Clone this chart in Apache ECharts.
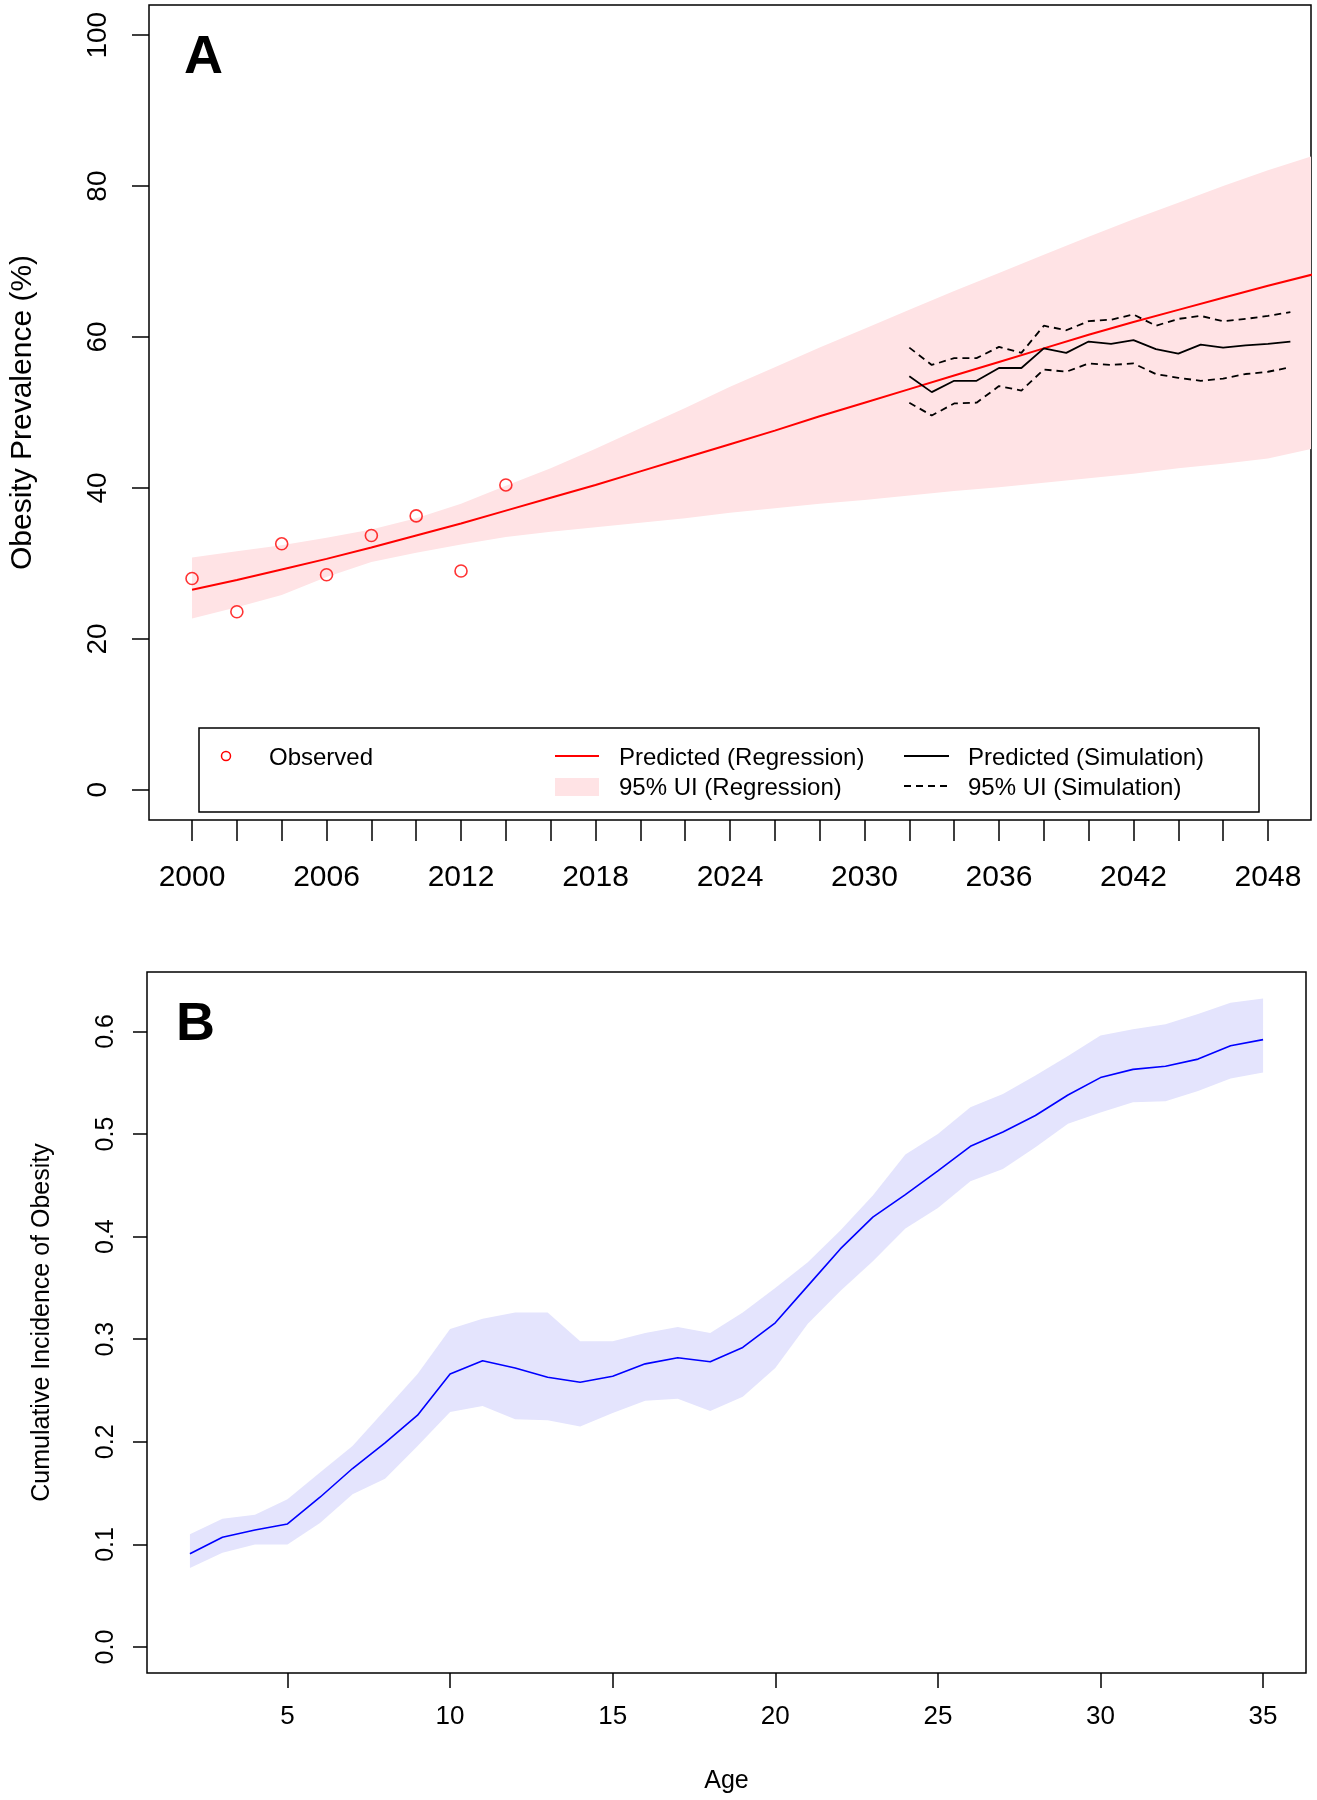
<!DOCTYPE html>
<html>
<head>
<meta charset="utf-8">
<script src="https://cdn.jsdelivr.net/npm/echarts@6/dist/echarts.min.js"></script>
<style>
html,body{margin:0;padding:0;background:#fff;}
#chart{width:1317px;height:1800px;}
</style>
</head>
<body>
<div id="chart"></div>
<script>
// ---------- Panel A data ----------
const obsYears = [2000, 2002, 2004, 2006, 2008, 2010, 2012, 2014];
const obsValues = [28.0, 23.6, 32.6, 28.5, 33.7, 36.3, 29.0, 40.4];

const regYears = [2000, 2002, 2004, 2006, 2008, 2010, 2012, 2014, 2016, 2018, 2020, 2022, 2024,
                  2026, 2028, 2030, 2032, 2034, 2036, 2038, 2040, 2042, 2044, 2046, 2048, 2050];
const regPred  = [26.5, 27.8, 29.2, 30.6, 32.1, 33.7, 35.3, 37.0, 38.7, 40.4, 42.2, 44.0, 45.8,
                  47.6, 49.5, 51.3, 53.1, 54.9, 56.7, 58.5, 60.3, 62.0, 63.6, 65.2, 66.8, 68.3];
const regUpper = [30.8, 31.6, 32.4, 33.4, 34.5, 36.0, 37.9, 40.3, 42.6, 45.2, 47.9, 50.6, 53.4,
                  56.0, 58.6, 61.1, 63.6, 66.1, 68.5, 70.9, 73.3, 75.6, 77.8, 80.0, 82.1, 84.0];
const regLower = [22.7, 24.2, 25.8, 28.2, 30.2, 31.4, 32.5, 33.5, 34.2, 34.8, 35.4, 36.0, 36.7,
                  37.3, 37.9, 38.4, 39.0, 39.6, 40.1, 40.7, 41.3, 41.9, 42.6, 43.2, 43.9, 45.2];

const simYears = [2032, 2033, 2034, 2035, 2036, 2037, 2038, 2039, 2040, 2041, 2042, 2043, 2044,
                  2045, 2046, 2047, 2048, 2049];
const simPred  = [54.8, 52.7, 54.2, 54.2, 55.9, 55.9, 58.5, 57.9, 59.4, 59.1, 59.6, 58.4, 57.8,
                  59.0, 58.6, 58.9, 59.1, 59.4];
const simUpper = [58.6, 56.3, 57.2, 57.2, 58.7, 57.9, 61.5, 60.9, 62.1, 62.3, 63.0, 61.5, 62.4,
                  62.8, 62.1, 62.4, 62.8, 63.3];
const simLower = [51.3, 49.6, 51.2, 51.3, 53.5, 52.9, 55.7, 55.4, 56.5, 56.3, 56.5, 55.1, 54.6,
                  54.2, 54.5, 55.1, 55.4, 56.0];

const xTicksA  = [2000, 2002, 2004, 2006, 2008, 2010, 2012, 2014, 2016, 2018, 2020, 2022, 2024,
                  2026, 2028, 2030, 2032, 2034, 2036, 2038, 2040, 2042, 2044, 2046, 2048];
const xLabelsA = [2000, 2006, 2012, 2018, 2024, 2030, 2036, 2042, 2048];
const yTicksA  = [0, 20, 40, 60, 80, 100];

// ---------- Panel B data ----------
const ages     = [2, 3, 4, 5, 6, 7, 8, 9, 10, 11, 12, 13, 14, 15, 16, 17, 18, 19, 20, 21,
                  22, 23, 24, 25, 26, 27, 28, 29, 30, 31, 32, 33, 34, 35];
const cumInc   = [0.091, 0.107, 0.114, 0.120, 0.146, 0.174, 0.199, 0.226, 0.266, 0.279,
                  0.272, 0.263, 0.258, 0.264, 0.276, 0.282, 0.278, 0.292, 0.316, 0.352,
                  0.388, 0.419, 0.441, 0.464, 0.488, 0.502, 0.518, 0.538, 0.555, 0.563,
                  0.566, 0.573, 0.586, 0.592];
const cumLower = [0.077, 0.092, 0.100, 0.100, 0.121, 0.149, 0.164, 0.196, 0.229, 0.235,
                  0.222, 0.221, 0.215, 0.228, 0.240, 0.242, 0.230, 0.244, 0.272, 0.315,
                  0.347, 0.376, 0.408, 0.428, 0.454, 0.466, 0.487, 0.510, 0.521, 0.531,
                  0.532, 0.542, 0.554, 0.560];
const cumUpper = [0.110, 0.125, 0.129, 0.144, 0.170, 0.196, 0.231, 0.266, 0.310, 0.320,
                  0.326, 0.326, 0.298, 0.298, 0.306, 0.312, 0.306, 0.326, 0.350, 0.375,
                  0.406, 0.440, 0.480, 0.500, 0.526, 0.539, 0.557, 0.576, 0.596, 0.602,
                  0.607, 0.617, 0.628, 0.632];

const xTicksB = [5, 10, 15, 20, 25, 30, 35];
const yTicksB = [0, 0.1, 0.2, 0.3, 0.4, 0.5, 0.6];

// ---------- chart ----------
const FONT = "'Liberation Sans', Arial, sans-serif";
const pair = (xs, ys) => xs.map((x, i) => [x, ys[i]]);
const triple = (xs, lo, up) => xs.map((x, i) => [x, lo[i], up[i]]);

// uncertainty band: one polygon drawn through the axes' own coordinate mapping
function makeBandSeries(name, xs, lo, up, color, xi, yi) {
  const data = triple(xs, lo, up);
  return {
    name: name, type: 'custom', xAxisIndex: xi, yAxisIndex: yi, silent: true, clip: true, z: 1,
    data: data,
    encode: {x: 0, y: [1, 2]},
    renderItem: function (params, api) {
      if (params.dataIndex !== 0) return null;
      const top = [], bottom = [];
      for (let i = 0; i < data.length; i++) {
        top.push(api.coord([data[i][0], data[i][2]]));
        bottom.push(api.coord([data[i][0], data[i][1]]));
      }
      const cs = params.coordSys;
      return {
        type: 'polygon',
        shape: {points: top.concat(bottom.reverse())},
        style: {fill: color, stroke: null},
        clipPath: {type: 'rect', shape: {x: cs.x, y: cs.y, width: cs.width, height: cs.height}}
      };
    }
  };
}

const chart = echarts.init(document.getElementById('chart'), null, {renderer: 'canvas'});
const tickStyle = {color: '#000', width: 1.5};

const option = {
  backgroundColor: '#fff',
  animation: false,
  grid: [
    {left: 147, top: 5, width: 1164, height: 815, show: true, borderColor: '#000', borderWidth: 1.5, backgroundColor: 'transparent', containLabel: false},
    {left: 147, top: 972, width: 1159, height: 701, show: true, borderColor: '#000', borderWidth: 1.5, backgroundColor: 'transparent', containLabel: false}
  ],
  xAxis: [
    {
      gridIndex: 0, type: 'value', min: 1998.08, max: 2049.92,
      axisLine: {show: false, onZero: false},
      splitLine: {show: false},
      axisTick: {show: true, inside: false, length: 21, lineStyle: tickStyle, customValues: xTicksA},
      axisLabel: {show: true, margin: 43, fontSize: 30, color: '#000', fontFamily: FONT, customValues: xLabelsA,
                  formatter: v => String(v)}
    },
    {
      gridIndex: 1, type: 'value', min: 0.68, max: 36.32,
      name: 'Age', nameLocation: 'middle', nameGap: 96,
      nameTextStyle: {fontSize: 25, color: '#000', fontFamily: FONT},
      axisLine: {show: false, onZero: false},
      splitLine: {show: false},
      axisTick: {show: true, inside: false, length: 15, lineStyle: tickStyle, customValues: xTicksB},
      axisLabel: {show: true, margin: 31, fontSize: 26, color: '#000', fontFamily: FONT, customValues: xTicksB}
    }
  ],
  yAxis: [
    {
      gridIndex: 0, type: 'value', min: -4, max: 104,
      name: 'Obesity Prevalence (%)', nameLocation: 'middle', nameGap: 111,
      nameTextStyle: {fontSize: 30, color: '#000', fontFamily: FONT},
      axisLine: {show: false, onZero: false},
      splitLine: {show: false},
      axisTick: {show: true, inside: false, length: 17, lineStyle: tickStyle, customValues: yTicksA},
      axisLabel: {show: true, rotate: 90, margin: 37, fontSize: 28, color: '#000', fontFamily: FONT, customValues: yTicksA}
    },
    {
      gridIndex: 1, type: 'value', min: -0.0253, max: 0.6579,
      name: 'Cumulative Incidence of Obesity', nameLocation: 'middle', nameGap: 92,
      nameTextStyle: {fontSize: 25, color: '#000', fontFamily: FONT},
      axisLine: {show: false, onZero: false},
      splitLine: {show: false},
      axisTick: {show: true, inside: false, length: 14, lineStyle: tickStyle, customValues: yTicksB},
      axisLabel: {show: true, rotate: 90, margin: 28, fontSize: 25, color: '#000', fontFamily: FONT, customValues: yTicksB,
                  formatter: v => v.toFixed(1)}
    }
  ],
  series: [
    // Panel A
    makeBandSeries('95% UI (Regression)', regYears, regLower, regUpper, 'rgb(255,227,229)', 0, 0),
    {name: 'Predicted (Regression)', type: 'line', xAxisIndex: 0, yAxisIndex: 0, symbol: 'none',
     lineStyle: {color: '#ff0000', width: 2}, data: pair(regYears, regPred), z: 3},
    {name: 'Observed', type: 'scatter', xAxisIndex: 0, yAxisIndex: 0, symbol: 'circle', symbolSize: 12,
     itemStyle: {color: 'rgba(0,0,0,0)', borderColor: '#ff0000', borderWidth: 1.6}, data: pair(obsYears, obsValues), z: 4},
    {name: 'Predicted (Simulation)', type: 'line', xAxisIndex: 0, yAxisIndex: 0, symbol: 'none',
     lineStyle: {color: '#000', width: 1.8}, data: pair(simYears, simPred), z: 3},
    {name: '95% UI (Simulation) upper', type: 'line', xAxisIndex: 0, yAxisIndex: 0, symbol: 'none',
     lineStyle: {color: '#000', width: 1.8, type: [7, 5]}, data: pair(simYears, simUpper), z: 3},
    {name: '95% UI (Simulation) lower', type: 'line', xAxisIndex: 0, yAxisIndex: 0, symbol: 'none',
     lineStyle: {color: '#000', width: 1.8, type: [7, 5]}, data: pair(simYears, simLower), z: 3},
    // Panel B
    makeBandSeries('Cumulative incidence band', ages, cumLower, cumUpper, 'rgb(228,228,253)', 1, 1),
    {name: 'Cumulative Incidence', type: 'line', xAxisIndex: 1, yAxisIndex: 1, symbol: 'none',
     lineStyle: {color: '#0000ff', width: 1.6}, data: pair(ages, cumInc), z: 3}
  ],
  graphic: [
    {type: 'text', x: 184, y: 58, z: 10, style: {text: 'A', fontSize: 54, fontWeight: 'bold', fontFamily: FONT, fill: '#000', textVerticalAlign: 'middle'}},
    {type: 'text', x: 176, y: 1025, z: 10, style: {text: 'B', fontSize: 54, fontWeight: 'bold', fontFamily: FONT, fill: '#000', textVerticalAlign: 'middle'}},
    // legend box
    {type: 'rect', z: 10, shape: {x: 199, y: 728, width: 1060, height: 84}, style: {fill: '#fff', stroke: '#000', lineWidth: 1.5}},
    {type: 'circle', z: 11, shape: {cx: 226, cy: 756, r: 4.5}, style: {fill: 'none', stroke: '#ff0000', lineWidth: 1.5}},
    {type: 'text', z: 11, x: 269, y: 758, style: {text: 'Observed', fontSize: 24, fontFamily: FONT, fill: '#000', textVerticalAlign: 'middle'}},
    {type: 'line', z: 11, shape: {x1: 555, y1: 756, x2: 599, y2: 756}, style: {stroke: '#ff0000', lineWidth: 2}},
    {type: 'rect', z: 11, shape: {x: 555, y: 778, width: 44, height: 18}, style: {fill: 'rgb(255,227,229)'}},
    {type: 'text', z: 11, x: 619, y: 758, style: {text: 'Predicted (Regression)', fontSize: 24, fontFamily: FONT, fill: '#000', textVerticalAlign: 'middle'}},
    {type: 'text', z: 11, x: 619, y: 788, style: {text: '95% UI (Regression)', fontSize: 24, fontFamily: FONT, fill: '#000', textVerticalAlign: 'middle'}},
    {type: 'line', z: 11, shape: {x1: 904, y1: 756, x2: 949, y2: 756}, style: {stroke: '#000', lineWidth: 1.8}},
    {type: 'line', z: 11, shape: {x1: 904, y1: 786, x2: 949, y2: 786}, style: {stroke: '#000', lineWidth: 1.8, lineDash: [7, 5]}},
    {type: 'text', z: 11, x: 968, y: 758, style: {text: 'Predicted (Simulation)', fontSize: 24, fontFamily: FONT, fill: '#000', textVerticalAlign: 'middle'}},
    {type: 'text', z: 11, x: 968, y: 788, style: {text: '95% UI (Simulation)', fontSize: 24, fontFamily: FONT, fill: '#000', textVerticalAlign: 'middle'}}
  ]
};
chart.setOption(option);
</script>
</body>
</html>
